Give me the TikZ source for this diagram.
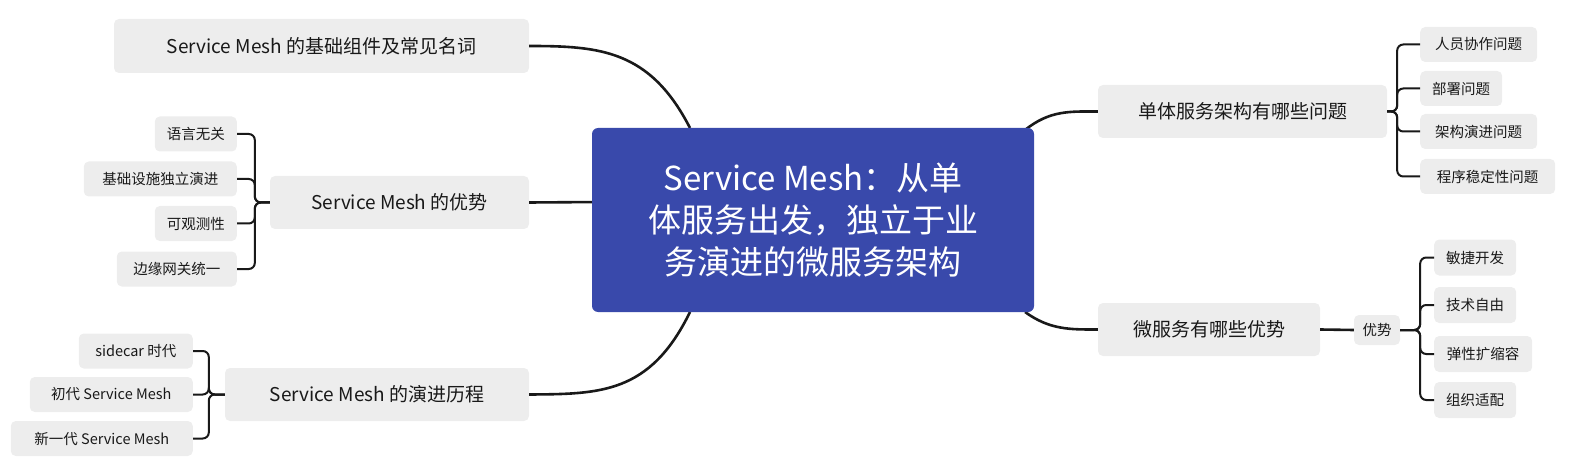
\documentclass[tikz,border=0pt]{standalone}
\usepackage{fontspec}
\setmainfont{Noto Sans CJK SC}
\begin{document}
\begin{tikzpicture}[x=1pt,y=-1pt,
  box/.style={fill=black!7,rounded corners=5pt,inner sep=0pt,text=black!90},
  big/.style={box,font=\fontsize{19}{22}\selectfont},
  leaf/.style={box,font=\fontsize{14.5}{17}\selectfont},
  conn/.style={line width=2.6pt,black!90},
  brk/.style={line width=2pt,black!90,rounded corners=6pt}]
\useasboundingbox (0,0) rectangle (1582,473);
% connectors to big nodes (drawn first)
\coordinate (c1) at (690,128);
\coordinate (c2) at (600,202);
\coordinate (c3) at (690,312);
\coordinate (c4) at (1025,130);
\coordinate (c5) at (1025,312);
\node[big,minimum width=415,minimum height=54] (a) at (321.5,46) {Service Mesh 的基础组件及常见名词};
\node[big,minimum width=259,minimum height=53] (b) at (399.5,202.5) {Service Mesh 的优势};
\node[big,minimum width=304,minimum height=53] (c) at (377,394.5) {Service Mesh 的演进历程};
\node[big,minimum width=289,minimum height=53] (d) at (1242.5,111.5) {单体服务架构有哪些问题};
\node[big,minimum width=222,minimum height=53] (e) at (1209,329.5) {微服务有哪些优势};
\node[leaf,minimum width=46,minimum height=30] (f) at (1377,330) {优势};
\draw[conn] (c1) .. controls (650,50) and (600,46) .. (a.east);
\draw[conn] (c2) -- (b.east);
\draw[conn] (c3) .. controls (650,394) and (600,394) .. (c.east);
\draw[conn] (c4) .. controls (1050,110) and (1070,111.5) .. (d.west);
\draw[conn] (c5) .. controls (1050,330) and (1070,329.5) .. (e.west);
\draw[conn] (e.east) -- (f.west);
\node[fill={rgb,255:red,57;green,73;blue,171},rounded corners=6pt,minimum width=442,minimum height=184,text=white,align=center,font=\fontsize{33}{42}\selectfont] (m) at (813,220) {Service Mesh：从单\\体服务出发，独立于业\\务演进的微服务架构};
% right top leaves
\foreach \n/\t/\w/\y in {r1/人员协作问题/117/44.5, r2/部署问题/82/88.5, r3/架构演进问题/117/131.5, r4/程序稳定性问题/135/176.5}{
  \node[leaf,minimum width=\w,minimum height=35,anchor=west] (\n) at (1420,\y) {\t};
  \draw[brk] (d.east) -- ++(10,0) |- (\n.west);
}
\foreach \n/\t/\w/\y in {s1/敏捷开发/82/257.5, s2/技术自由/82/305, s3/弹性扩缩容/98/354, s4/组织适配/82/400}{
  \node[leaf,minimum width=\w,minimum height=36,anchor=west] (\n) at (1434,\y) {\t};
  \draw[brk] (f.east) -- ++(20,0) |- (\n.west);
}
\foreach \n/\t/\w/\y in {l1/语言无关/82/134, l2/基础设施独立演进/153/179, l3/可观测性/82/223.5, l4/边缘网关统一/120/269}{
  \node[leaf,minimum width=\w,minimum height=35,anchor=east] (\n) at (237,\y) {\t};
  \draw[brk] (b.west) -- ++(-15,0) |- (\n.east);
}
\foreach \n/\t/\w/\y in {h1/sidecar 时代/114/351, h2/初代 Service Mesh/163/394.5, h3/新一代 Service Mesh/182/438.5}{
  \node[leaf,minimum width=\w,minimum height=35,anchor=east] (\n) at (193,\y) {\t};
  \draw[brk] (c.west) -- ++(-16,0) |- (\n.east);
}
\end{tikzpicture}
\end{document}
